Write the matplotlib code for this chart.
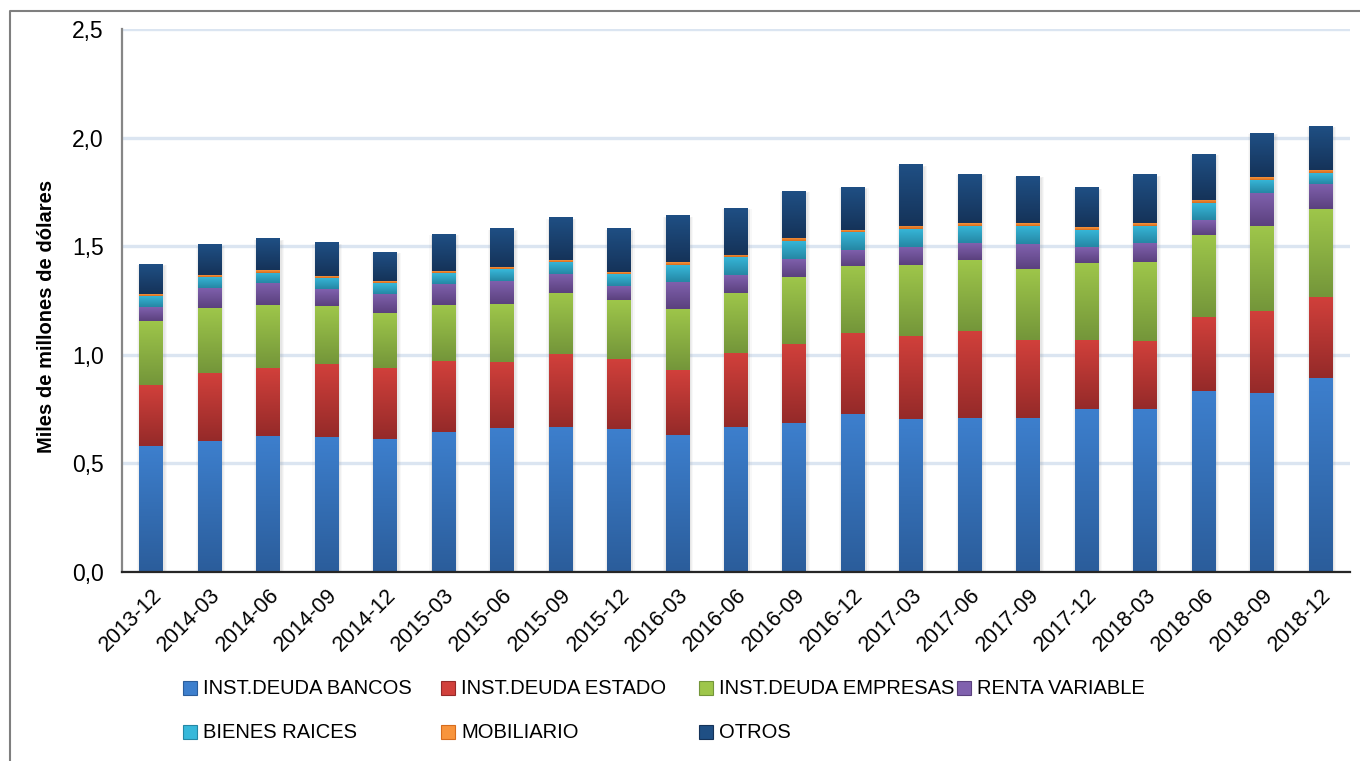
import numpy as np
import matplotlib
matplotlib.use("Agg")
from matplotlib import pyplot as plt
from matplotlib.colors import LinearSegmentedColormap
from matplotlib.patches import Rectangle
from matplotlib.lines import Line2D
from matplotlib.ticker import FuncFormatter


periods = ['2013-12', '2014-03', '2014-06', '2014-09', '2014-12', '2015-03', '2015-06',
           '2015-09', '2015-12', '2016-03', '2016-06', '2016-09', '2016-12', '2017-03',
           '2017-06', '2017-09', '2017-12', '2018-03', '2018-06', '2018-09', '2018-12']

# miles de millones de dolares
deuda_bancos = [0.580, 0.603, 0.628, 0.622, 0.612, 0.646, 0.663, 0.668, 0.658, 0.631, 0.668,
                0.686, 0.727, 0.704, 0.709, 0.709, 0.750, 0.750, 0.833, 0.824, 0.893]
deuda_estado = [0.281, 0.313, 0.313, 0.337, 0.329, 0.325, 0.304, 0.336, 0.323, 0.299, 0.340,
                0.364, 0.373, 0.383, 0.401, 0.359, 0.318, 0.314, 0.341, 0.378, 0.373]
deuda_empresas = [0.295, 0.299, 0.288, 0.266, 0.251, 0.258, 0.267, 0.281, 0.271, 0.281, 0.277,
                  0.308, 0.309, 0.326, 0.326, 0.327, 0.355, 0.363, 0.378, 0.391, 0.405]
renta_variable = [0.063, 0.094, 0.102, 0.078, 0.089, 0.098, 0.106, 0.088, 0.066, 0.126, 0.082,
                  0.083, 0.074, 0.083, 0.077, 0.115, 0.073, 0.086, 0.069, 0.152, 0.117]
bienes_raices = [0.053, 0.051, 0.047, 0.052, 0.050, 0.050, 0.055, 0.056, 0.055, 0.078, 0.083,
                 0.083, 0.084, 0.083, 0.081, 0.084, 0.080, 0.081, 0.078, 0.061, 0.049]
mobiliario = [0.008, 0.007, 0.012, 0.008, 0.009, 0.009, 0.009, 0.007, 0.008, 0.012, 0.010,
              0.014, 0.009, 0.014, 0.013, 0.013, 0.012, 0.013, 0.014, 0.013, 0.014]
otros = [0.138, 0.139, 0.143, 0.152, 0.133, 0.170, 0.176, 0.194, 0.199, 0.212, 0.216,
         0.216, 0.197, 0.281, 0.225, 0.216, 0.180, 0.221, 0.211, 0.202, 0.202]

series = [
    ('INST.DEUDA BANCOS', deuda_bancos, '#3d7fcd', '#2b5d9b'),
    ('INST.DEUDA ESTADO', deuda_estado, '#d1403b', '#952a29'),
    ('INST.DEUDA EMPRESAS', deuda_empresas, '#9ec64a', '#74963a'),
    ('RENTA VARIABLE', renta_variable, '#8061ae', '#5b417e'),
    ('BIENES RAICES', bienes_raices, '#37b8da', '#2587a4'),
    ('MOBILIARIO', mobiliario, '#f8943c', '#d66c1d'),
    ('OTROS', otros, '#1f4f84', '#153359'),
]

plt.rcParams['font.family'] = ['Liberation Sans', 'DejaVu Sans']

fig = plt.figure(figsize=(13.6, 7.61), dpi=100)
ax = fig.add_axes([122 / 1360, 189 / 761, 1228 / 1360, 543 / 761])

x = np.arange(len(periods))
width = 0.41
grad = np.linspace(0, 1, 64).reshape(-1, 1)

totals = np.sum([s[1] for s in series], axis=0)
# soft shadow behind the stacks
for pad, alpha in [(0.10, 0.05), (0.06, 0.07), (0.03, 0.08)]:
    ax.bar(x + 0.012, totals + pad * 0.06, width=width + pad, bottom=-0.01,
           color='#7f7f7f', alpha=alpha, zorder=1, linewidth=0)

bottom = np.zeros(len(periods))
for name, vals, light, dark in series:
    bars = ax.bar(x, vals, width=width, bottom=bottom, color=light, linewidth=0,
                  zorder=2, label=name)
    cmap = LinearSegmentedColormap.from_list(name, [dark, light])
    for b in bars:
        x0, y0 = b.get_x(), b.get_y()
        ax.imshow(grad, cmap=cmap, aspect='auto', origin='lower', interpolation='bilinear',
                  extent=(x0, x0 + b.get_width(), y0, y0 + b.get_height()), zorder=3)
    bottom = bottom + np.array(vals)

ax.set_xlim(-0.5, len(periods) - 0.5)
ax.set_ylim(0, 2.5)
ax.set_yticks([0, 0.5, 1.0, 1.5, 2.0, 2.5])
ax.yaxis.set_major_formatter(FuncFormatter(lambda v, p: ('%.1f' % v).replace('.', ',')))
ax.set_xticks(x)
ax.set_xticklabels(periods, rotation=45, ha='right', rotation_mode='anchor')
ax.tick_params(axis='both', length=0, labelsize=15.5, colors='#000000')
ax.tick_params(axis='y', pad=13, labelsize=16.5)
ax.tick_params(axis='x', pad=9)

ax.yaxis.grid(True, color='#dbe5f1', linewidth=2.4, zorder=0)
ax.set_axisbelow(True)
for s in ['top', 'right']:
    ax.spines[s].set_visible(False)
ax.spines['left'].set_color('#868686')
ax.spines['left'].set_linewidth(1.6)
ax.spines['bottom'].set_color('#262626')
ax.spines['bottom'].set_linewidth(1.6)
ax.spines['bottom'].set_zorder(5)

ax.set_ylabel('Miles de millones de dólares', fontsize=14.5, fontweight='bold')
ax.yaxis.set_label_coords(-0.054, 0.47)

# legend drawn like the spreadsheet: equal column widths, two rows
col_x = [183, 441, 699, 957]
row_y = [688, 732]
for i, (name, vals, light, dark) in enumerate(series):
    cx = col_x[i % 4]
    cy = row_y[i // 4]
    fig.patches.append(Rectangle((cx / 1360, (761 - cy - 7) / 761), 14 / 1360, 14 / 761,
                                 transform=fig.transFigure, facecolor=light,
                                 edgecolor=dark, linewidth=0.8))
    fig.text((cx + 20) / 1360, (761 - cy) / 761, name, fontsize=14.5, va='center', ha='left')

# outer chart frame (only top and left show inside the picture)
fig.add_artist(Line2D([10 / 1360, 10 / 1360, 1], [0, 1 - 11 / 761, 1 - 11 / 761],
                      transform=fig.transFigure, color='#7f7f7f', linewidth=1.5))

fig.savefig('out.png', dpi=100, facecolor='white')
